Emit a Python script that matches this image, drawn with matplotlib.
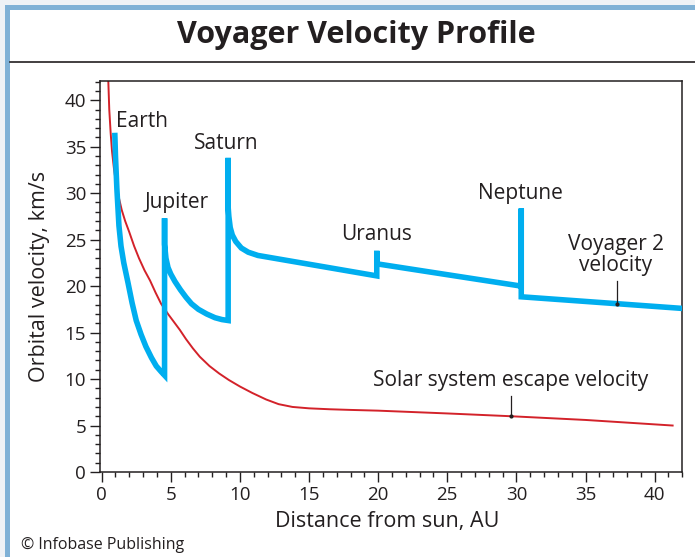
import matplotlib
matplotlib.use("Agg")
import matplotlib.pyplot as plt
from matplotlib.patches import Rectangle
from matplotlib.lines import Line2D
from matplotlib.ticker import MultipleLocator

plt.rcParams['font.family'] = ['Open Sans', 'DejaVu Sans']

# Voyager 2 velocity path (AU, km/s)
voy_x = [0.95, 1.0, 1.1, 1.25, 1.4, 1.6, 1.9, 2.2, 2.5, 2.85, 3.2, 3.6, 3.95, 4.3, 4.55,
         4.55, 4.55, 4.65, 4.8, 5.0, 5.3, 5.7, 6.1, 6.5, 7.0, 7.6, 8.2, 8.7, 9.15,
         9.15, 9.15, 9.2, 9.3, 9.45, 9.7, 10.1, 10.6, 11.3,
         19.9, 19.9, 19.9,
         30.35, 30.35, 30.35, 42.0]
voy_y = [36.5, 34.0, 30.5, 26.5, 24.3, 22.5, 20.4, 18.2, 16.3, 14.8, 13.5, 12.3, 11.4, 10.8, 10.4,
         27.3, 24.5, 23.0, 22.0, 21.3, 20.5, 19.6, 18.8, 18.1, 17.5, 17.0, 16.6, 16.4, 16.3,
         33.8, 28.5, 27.5, 26.3, 25.5, 24.8, 24.1, 23.65, 23.3,
         21.1, 23.8, 22.4,
         20.0, 28.35, 18.85, 17.6]

# solar system escape velocity
esc_x = [0.48, 0.55, 0.65, 0.75, 0.9, 1.05, 1.2, 1.45, 1.7, 2.0, 2.35, 2.7, 3.1, 3.5,
         3.9, 4.3, 4.8, 5.2, 5.65, 6.1, 6.6, 7.1, 7.8, 8.5, 9.2, 10.0, 10.9, 11.9,
         12.8, 13.8, 15.0, 16.5, 18.0, 20.0, 25.0, 29.6, 35.0, 41.3]
esc_y = [42.1, 39.0, 36.5, 34.5, 32.5, 31.0, 29.8, 28.2, 27.0, 25.8, 24.3, 23.0, 21.7, 20.6,
         19.3, 18.1, 17.0, 16.2, 15.3, 14.3, 13.3, 12.4, 11.4, 10.6, 9.9, 9.2, 8.5, 7.8,
         7.3, 7.0, 6.85, 6.75, 6.68, 6.6, 6.3, 6.0, 5.6, 5.0]

planets = ["Earth", "Jupiter", "Saturn", "Uranus", "Neptune"]
planet_x = [2.9, 5.4, 9.0, 19.9, 30.3]
planet_y = [37.7, 29.0, 35.3, 25.6, 30.0]

blue = "#00aeef"
red = "#d3222a"
ink = "#231f20"

W, H = 695, 557
fig = plt.figure(figsize=(W / 100, H / 100), dpi=100)

# frame: light outer, blue band on left/top, white inside
fig.patches.append(Rectangle((0, 0), 1, 1, transform=fig.transFigure,
                             facecolor="#eef2f6", edgecolor="none", zorder=-3))
fig.patches.append(Rectangle((5 / W, -0.1), 1.1, 1.1 - 5 / H, transform=fig.transFigure,
                             facecolor="#7fb1d6", edgecolor="none", zorder=-2))
fig.patches.append(Rectangle((10 / W, -0.1), 1.1, 1.1 - 10 / H, transform=fig.transFigure,
                             facecolor="white", edgecolor="none", zorder=-1))
fig.lines.append(Line2D([10 / W, 1], [1 - 62 / H, 1 - 62 / H], transform=fig.transFigure,
                        color=ink, lw=1.2))

fig.text(356 / W, 1 - 35 / H, "Voyager Velocity Profile", ha="center", va="center",
         fontsize=22, fontweight="bold", color=ink)

ax = fig.add_axes([100 / W, 1 - 472 / H, (682.3 - 100) / W, (472 - 80.7) / H])
ax.plot(esc_x, esc_y, color=red, lw=1.4, zorder=2)
ax.plot(voy_x, voy_y, color=blue, lw=4, solid_capstyle="butt",
        solid_joinstyle="miter", zorder=3)

ax.set_xlim(-0.12, 42.0)
ax.set_ylim(0, 42.1)
ax.xaxis.set_major_locator(MultipleLocator(5))
ax.xaxis.set_minor_locator(MultipleLocator(1))
ax.yaxis.set_major_locator(MultipleLocator(5))
ax.yaxis.set_minor_locator(MultipleLocator(1))
ax.tick_params(which="major", direction="out", length=7, width=1, colors=ink,
               labelsize=13.5, pad=3)
ax.tick_params(which="minor", direction="out", length=3.5, width=1, colors=ink)
for s in ax.spines.values():
    s.set_linewidth(1.1)
    s.set_color(ink)

for name, px, py in zip(planets, planet_x, planet_y):
    ax.text(px, py, name, ha="center", va="center", fontsize=15, color=ink)

ax.text(37.2, 23.4, "Voyager 2\nvelocity", ha="center", va="center", fontsize=15,
        color=ink, linespacing=1.0)
ax.plot([37.3, 37.3], [20.6, 18.1], color=ink, lw=0.9, zorder=4)
ax.plot([37.3], [18.1], marker="o", ms=2, color=ink, zorder=4)

ax.text(29.6, 9.8, "Solar system escape velocity", ha="center", va="center",
        fontsize=15, color=ink)
ax.plot([29.6, 29.6], [8.2, 6.0], color=ink, lw=0.9, zorder=4)
ax.plot([29.6], [6.0], marker="o", ms=2, color=ink, zorder=4)

fig.text(40 / W, 1 - 276 / H, "Orbital velocity, km/s", rotation=90, ha="center",
         va="center", fontsize=15.5, color=ink)
fig.text(387 / W, 1 - 522 / H, "Distance from sun, AU", ha="center", va="center",
         fontsize=15.5, color=ink)
fig.text(21 / W, 1 - 545 / H, "\u00a9 Infobase Publishing", ha="left", va="center",
         fontsize=11.5, color=ink)

fig.savefig("out.png", dpi=100)
